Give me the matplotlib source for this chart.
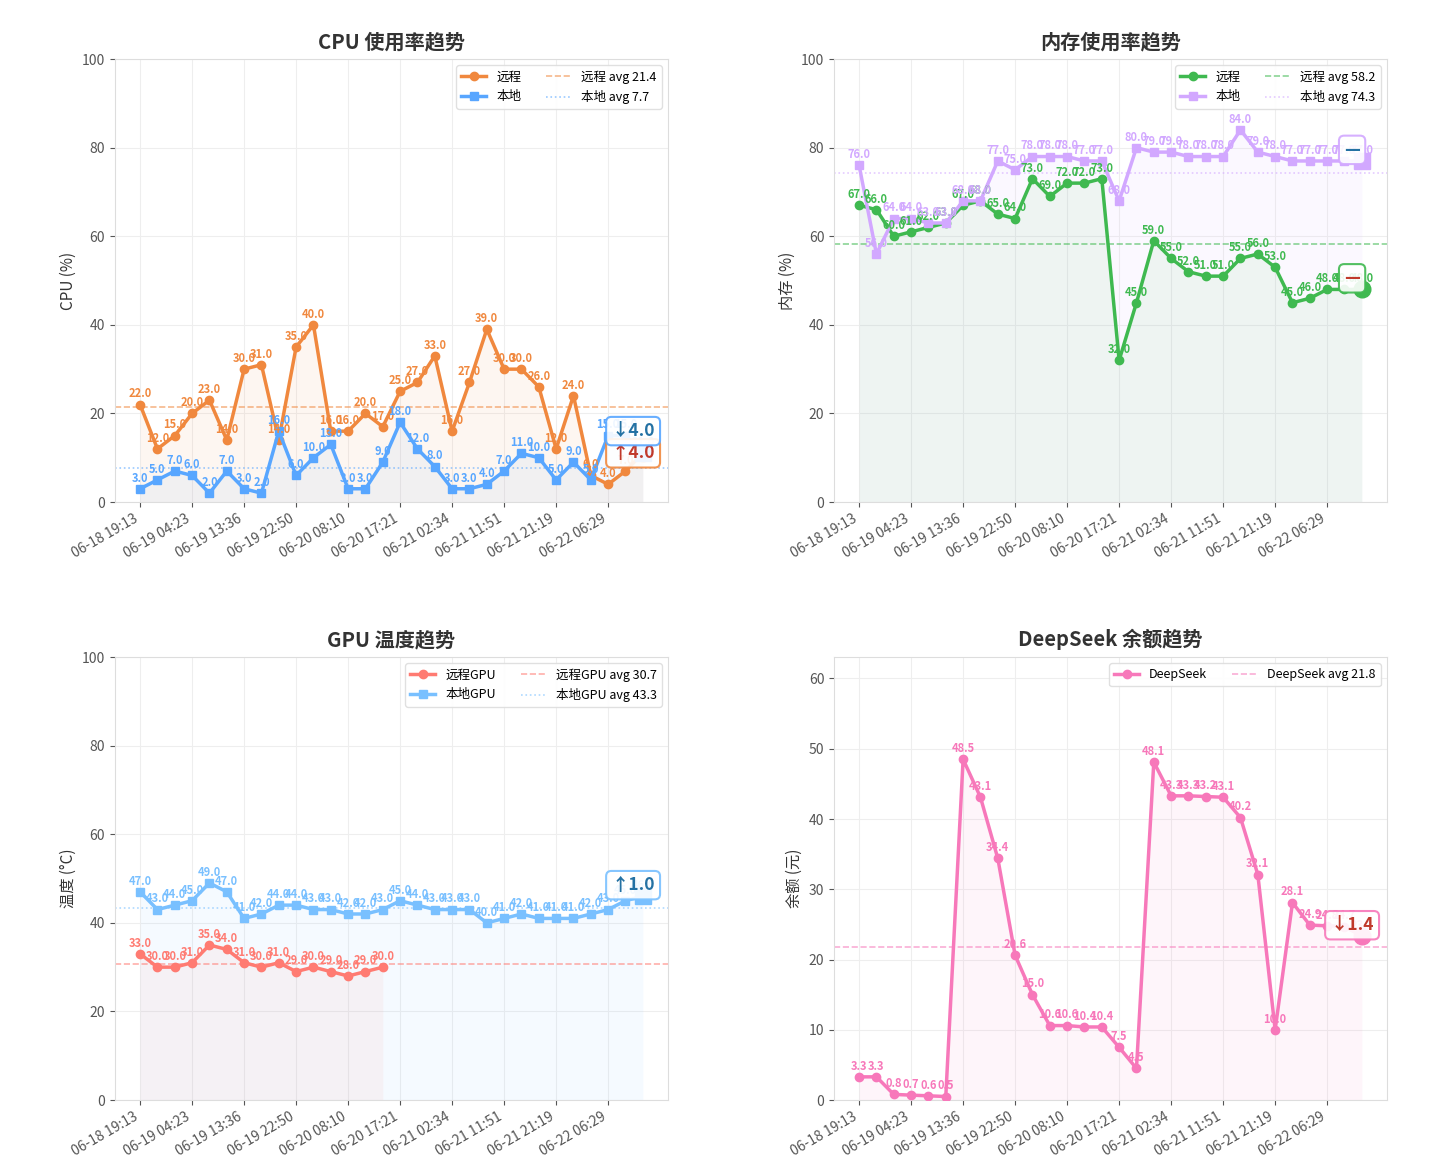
import numpy as np
import matplotlib
matplotlib.use("Agg")
import matplotlib.pyplot as plt

plt.rcParams['font.family'] = ['Noto Sans CJK SC', 'DejaVu Sans']
plt.rcParams['axes.unicode_minus'] = False

# x axis: 30 samples, tick every 3rd sample
tick_labels = ["06-18 19:13", "06-19 04:23", "06-19 13:36", "06-19 22:50", "06-20 08:10",
               "06-20 17:21", "06-21 02:34", "06-21 11:51", "06-21 21:19", "06-22 06:29"]

cpu_remote = [22, 12, 15, 20, 23, 14, 30, 31, 14, 35, 40, 16, 16, 20, 17,
              25, 27, 33, 16, 27, 39, 30, 30, 26, 12, 24, 6, 4, 7, 11]
cpu_local = [3, 5, 7, 6, 2, 7, 3, 2, 16, 6, 10, 13, 3, 3, 9,
             18, 12, 8, 3, 3, 4, 7, 11, 10, 5, 9, 5, 15, 15, 11]

mem_remote = [67, 66, 60, 61, 62, 63, 67, 68, 65, 64, 73, 69, 72, 72, 73,
              32, 45, 59, 55, 52, 51, 51, 55, 56, 53, 45, 46, 48, 48, 48]
mem_local = [76, 56, 64, 64, 63, 63, 68, 68, 77, 75, 78, 78, 78, 77, 77,
             68, 80, 79, 79, 78, 78, 78, 84, 79, 78, 77, 77, 77, 77, 77]

# remote GPU only reported for the first 15 samples
gpu_remote = [33, 30, 30, 31, 35, 34, 31, 30, 31, 29, 30, 29, 28, 29, 30]
gpu_local = [47, 43, 44, 45, 49, 47, 41, 42, 44, 44, 43, 43, 42, 42, 43,
             45, 44, 43, 43, 43, 40, 41, 42, 41, 41, 41, 42, 43, 45, 46]

deepseek = [3.3, 3.3, 0.8, 0.7, 0.6, 0.5, 48.5, 43.1, 34.4, 20.6, 15.0, 10.6, 10.6, 10.4, 10.4,
            7.5, 4.5, 48.1, 43.3, 43.3, 43.2, 43.1, 40.2, 32.1, 10.0, 28.1, 24.9, 24.8, 24.7, 23.3]

N = len(cpu_remote)
DELTA_COLORS = ['#c0392b', '#2471a3']


def pad(vals):
    out = np.full(N, np.nan)
    out[:len(vals)] = vals
    return out


def draw_panel(ax, title, ylabel, series, ymax=100):
    x = np.arange(N)
    line_handles = []
    avg_handles = []
    lasts = [pad(s[1])[-1] for s in series]
    # boxes of series ending at almost the same value get stacked
    crowded = len(lasts) > 1 and not np.isnan(lasts).any() and \
        abs(lasts[0] - lasts[1]) < ymax * 0.06
    for i, (name, vals, color, marker, avg_ls) in enumerate(series):
        vals = pad(vals)
        ln, = ax.plot(x, vals, color=color, marker=marker, lw=2.5, ms=6,
                      label=name, zorder=3)
        ax.fill_between(x, vals, color=color, alpha=0.07, lw=0)
        for xi, v in zip(x, vals):
            if np.isnan(v):
                continue
            ax.annotate(f"{v:.1f}", (xi, v), xytext=(0, 3), textcoords="offset points",
                        ha="center", va="bottom", fontsize=8, fontweight="bold",
                        color=color, zorder=4)
        avg = np.nanmean(vals)
        av = ax.axhline(avg, color=color, ls=avg_ls, lw=1.2, alpha=0.6,
                        label=f"{name} avg {avg:.1f}", zorder=2)
        line_handles.append(ln)
        avg_handles.append(av)

        # highlight the latest value and its change
        if not np.isnan(vals[-1]):
            ax.plot(x[-1], vals[-1], marker=marker, ms=12, color=color, zorder=6)
            delta = vals[-1] - vals[-2]
            if abs(delta) < 0.05:
                txt = "—"
            else:
                txt = ("↑" if delta > 0 else "↓") + f"{abs(delta):.1f}"
            dy = (0 if i == 0 else 16) if crowded else 8
            ax.annotate(txt, (x[-1], vals[-1]), xytext=(-7, dy), textcoords="offset points",
                        ha="center", va="center", fontsize=12.5, fontweight="bold",
                        color=DELTA_COLORS[i % 2], zorder=7,
                        bbox=dict(boxstyle="round,pad=0.3", fc="white", ec=color,
                                  lw=1.5, alpha=0.9))

    ax.set_ylim(0, ymax)
    ax.set_title(title, fontsize=14.5, fontweight="bold", color="#333333", pad=8)
    ax.set_ylabel(ylabel, fontsize=11, color="#333333")
    ax.set_xticks(x[::3])
    ax.set_xticklabels(tick_labels, rotation=30, ha="right")
    ax.tick_params(colors="#555555", labelsize=10)
    ax.grid(True, color="#eeeeee", lw=0.8)
    ax.set_axisbelow(True)
    for sp in ax.spines.values():
        sp.set_color("#dddddd")
    ax.legend(handles=line_handles + avg_handles, loc="upper right", ncol=2,
              fontsize=9, framealpha=0.9, edgecolor="#dddddd")


fig = plt.figure(figsize=(14.3, 11.7), dpi=100)
w, h = 0.3867, 0.3786
ax1 = fig.add_axes([0.0804, 0.5709, w, h])
ax2 = fig.add_axes([0.5832, 0.5709, w, h])
ax3 = fig.add_axes([0.0804, 0.0598, w, h])
ax4 = fig.add_axes([0.5832, 0.0598, w, h])

draw_panel(ax1, "CPU 使用率趋势", "CPU (%)", [
    ("远程", cpu_remote, "#f0883e", "o", "--"),
    ("本地", cpu_local, "#58a6ff", "s", ":"),
])
draw_panel(ax2, "内存使用率趋势", "内存 (%)", [
    ("远程", mem_remote, "#3fb950", "o", "--"),
    ("本地", mem_local, "#d2a8ff", "s", ":"),
])
draw_panel(ax3, "GPU 温度趋势", "温度 (°C)", [
    ("远程GPU", gpu_remote, "#ff7b72", "o", "--"),
    ("本地GPU", gpu_local, "#79c0ff", "s", ":"),
])
draw_panel(ax4, "DeepSeek 余额趋势", "余额 (元)", [
    ("DeepSeek", deepseek, "#f778ba", "o", "--"),
], ymax=max(deepseek) * 1.3)

fig.savefig("out.png", dpi=100, facecolor="white")
